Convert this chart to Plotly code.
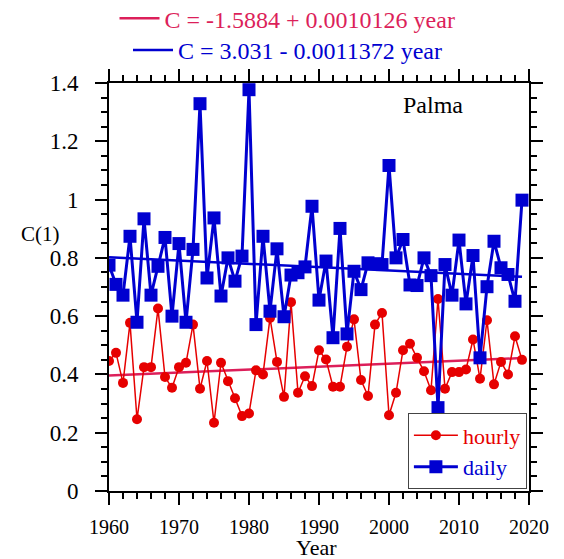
import plotly.graph_objects as go

years = list(range(1960, 2020))

hourly = [0.446, 0.474, 0.371, 0.577, 0.246, 0.425, 0.425, 0.626, 0.391, 0.354,
          0.425, 0.440, 0.571, 0.351, 0.446, 0.234, 0.440, 0.377, 0.318, 0.257,
          0.266, 0.414, 0.400, 0.594, 0.443, 0.323, 0.648, 0.337, 0.394, 0.360,
          0.483, 0.451, 0.358, 0.358, 0.495, 0.589, 0.381, 0.326, 0.571, 0.611,
          0.260, 0.337, 0.483, 0.505, 0.457, 0.411, 0.346, 0.659, 0.351, 0.408,
          0.408, 0.417, 0.520, 0.385, 0.586, 0.366, 0.443, 0.400, 0.531, 0.450]

daily = [0.775, 0.709, 0.672, 0.874, 0.579, 0.934, 0.672, 0.771, 0.870, 0.600,
         0.849, 0.579, 0.829, 1.329, 0.731, 0.937, 0.669, 0.800, 0.720, 0.806,
         1.377, 0.571, 0.874, 0.617, 0.831, 0.598, 0.741, 0.749, 0.769, 0.977,
         0.655, 0.789, 0.526, 0.901, 0.539, 0.754, 0.691, 0.783, 0.780, 0.777,
         1.117, 0.800, 0.863, 0.707, 0.705, 0.800, 0.739, 0.286, 0.777, 0.672,
         0.861, 0.642, 0.808, 0.457, 0.701, 0.857, 0.766, 0.743, 0.651, 0.998]

# fitted trends (coefficients from the figure)
fit_h = (-1.5884, 0.0010126)
fit_d = (3.031, -0.0011372)
fit_years = [1960, 2019]

RED = "#e60000"
BLUE = "#0000d0"
CRIMSON = "#dc1f5a"
FONT = "Liberation Serif, Times New Roman, Times, serif"

fig = go.Figure()

fig.add_trace(go.Scatter(
    x=fit_years, y=[fit_h[0] + fit_h[1] * y for y in fit_years],
    mode="lines", line=dict(color=CRIMSON, width=2.5),
    name='<span style="color:%s">C = -1.5884 + 0.0010126 year</span>' % CRIMSON,
    legend="legend"))
fig.add_trace(go.Scatter(
    x=fit_years, y=[fit_d[0] + fit_d[1] * y for y in fit_years],
    mode="lines", line=dict(color=BLUE, width=2.5),
    name='<span style="color:%s">C = 3.031 - 0.0011372 year</span>' % BLUE,
    legend="legend3"))

fig.add_trace(go.Scatter(
    x=years, y=hourly, mode="lines+markers",
    line=dict(color=RED, width=1.5),
    marker=dict(symbol="circle", size=10, color=RED),
    name='<span style="color:%s">hourly</span>' % RED, legend="legend2"))
fig.add_trace(go.Scatter(
    x=years, y=daily, mode="lines+markers",
    line=dict(color=BLUE, width=3),
    marker=dict(symbol="square", size=13, color=BLUE),
    name='<span style="color:%s">daily</span>' % BLUE, legend="legend2"))

axis_common = dict(
    showline=True, linecolor="black", linewidth=2, mirror="allticks",
    ticks="outside", ticklen=12, tickwidth=2, tickcolor="black",
    showgrid=False, zeroline=False,
)

fig.update_xaxes(range=[1960, 2020], dtick=10, tick0=1960,
                 tickfont=dict(family=FONT, size=20, color="black"),
                 ticklabelstandoff=5,
                 minor=dict(dtick=2, ticks="outside", ticklen=6, tickwidth=1.5,
                            tickcolor="black"),
                 **axis_common)
fig.update_yaxes(range=[0, 1.4], dtick=0.2, tick0=0,
                 tickfont=dict(family=FONT, size=23, color="black"),
                 ticklabelstandoff=12,
                 minor=dict(dtick=0.05, ticks="outside", ticklen=6, tickwidth=1.5,
                            tickcolor="black"),
                 **axis_common)

# page body has an 8px margin, so the figure is made 8px smaller
fig.update_layout(
    width=556, height=551,
    margin=dict(l=101, r=35, t=75, b=68, autoexpand=False),
    plot_bgcolor="white", paper_bgcolor="white",
    font=dict(family=FONT, size=20, color="black"),
    showlegend=True,
    legend=dict(x=0.425, y=1.158, xanchor="center", yanchor="middle",
                bgcolor="rgba(0,0,0,0)", font=dict(size=24), itemwidth=40),
    legend3=dict(x=0.425, y=1.08, xanchor="center", yanchor="middle",
                 bgcolor="rgba(0,0,0,0)", font=dict(size=24), itemwidth=40),
    legend2=dict(x=0.995, y=0.004, xanchor="right", yanchor="bottom",
                 bgcolor="white", bordercolor="#444", borderwidth=1,
                 font=dict(size=22), tracegroupgap=0, itemwidth=44),
    annotations=[
        dict(text="Palma", x=0.771, y=0.947, xref="paper", yref="paper",
             xanchor="center", yanchor="middle",
             showarrow=False, font=dict(size=24)),
        dict(text="C(1)", x=-0.164, y=0.631, xref="paper", yref="paper",
             xanchor="center", yanchor="middle",
             showarrow=False, font=dict(size=21)),
        dict(text="Year", x=0.493, y=-0.138, xref="paper", yref="paper",
             xanchor="center", yanchor="middle",
             showarrow=False, font=dict(size=22)),
    ],
)

fig.write_html("out.html")
